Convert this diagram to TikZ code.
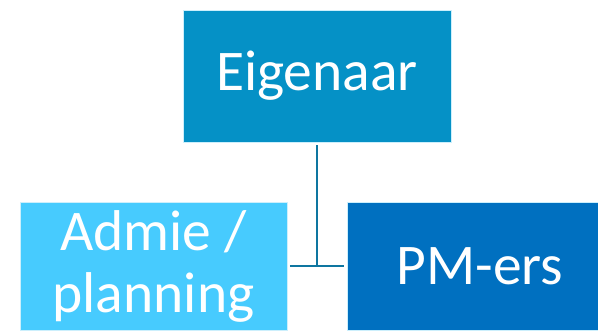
\documentclass[tikz,border=0pt]{standalone}
\usepackage{fontspec}
\setmainfont{Carlito}
\usepackage{xcolor}
\definecolor{topblue}{HTML}{0591C6}
\definecolor{lightblue}{HTML}{47CBFE}
\definecolor{darkblue}{HTML}{0070C0}
\definecolor{lineblue}{HTML}{0E76A0}

\begin{document}
\begin{tikzpicture}[x=1pt,y=-1pt,
	box/.style={rectangle, draw=white!80!cyan, line width=0.6pt, text=white,
		align=center, inner sep=0pt, font=\fontsize{57.5}{62}\selectfont},
	topbox/.style={box, fill=topblue, minimum width=268pt, minimum height=132pt},
	leftbox/.style={box, fill=lightblue, minimum width=267pt, minimum height=128pt},
	rightbox/.style={box, fill=darkblue, minimum width=266pt, minimum height=128pt},
	conn/.style={draw=lineblue, line width=2.8pt}]
	\clip (0,0) rectangle (598,331);
	\useasboundingbox (0,0) rectangle (598,331);

	\node[topbox] (E) at (317,76) {Eigenaar};
	\node[leftbox] (A) at (153.5,266) {Admie /\\planning};
	\node[rightbox] (P) at (480,266) {PM-ers};

	\coordinate (M) at (E.south |- A.east);
  \path[conn] ([yshift=-3pt]E.south) -- (M);
  \path[conn] ([xshift=2.5pt]A.east) -- ([xshift=-2.5pt]P.west);

\end{tikzpicture}
\end{document}
